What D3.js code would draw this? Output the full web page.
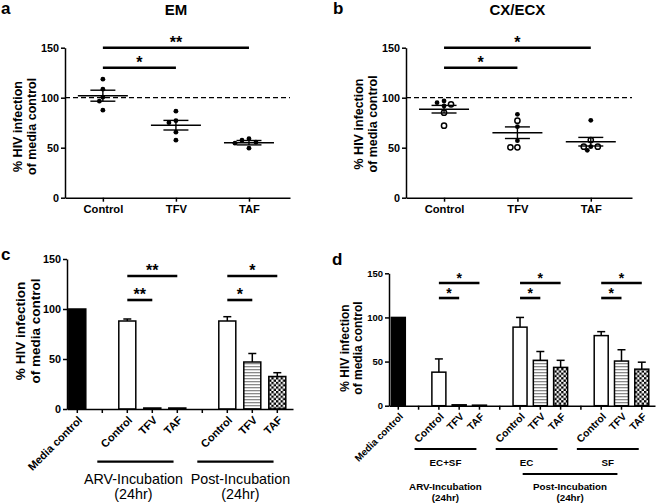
<!DOCTYPE html>
<html>
<head>
<meta charset="utf-8">
<script src="https://cdn.jsdelivr.net/npm/d3@7"></script>
<style>
  body { margin: 0; background: #fff; }
  svg { font-family: "Liberation Sans", Arial, sans-serif; }
  .axis path, .axis line { stroke: #000; stroke-width: 1.5px; }
  .axis text { font-weight: bold; fill: #000; }
</style>
</head>
<body>
<div id="chart"></div>
<script>
// ---- data ----
const scatterCats = ["Control", "TFV", "TAF"];
const yTicks = [0, 50, 100, 150];

// panel a (EM)
const emControl = [118.5, 108.5, 100.5, 96.5, 87.5];
const emTFV = [86.5, 77, 75, 65.5, 57.5];
const emTAF = [59, 57.5, 55.5, 54.5, 49.5];
const emMean = [102, 72.5, 55];
const emSem = [5.5, 4.8, 2.2];
const emSig = [["Control", "TAF", 150, "**"], ["Control", "TFV", 130, "*"]];

// panel b (CX/ECX), open = true for hollow markers
const cxControl = [96.7, 95, 93.4, 91.7, 85, 72];
const cxControlOpen = [false, false, true, false, true, true];
const cxTFV = [83.4, 77, 71, 57, 50.4, 50.4];
const cxTFVOpen = [false, true, false, false, true, true];
const cxTAF = [77.4, 57.7, 51, 47.4, 51, 51];
const cxTAFOpen = [false, true, false, false, true, true];
const cxMean = [88.5, 65, 56];
const cxSem = [3.8, 5.8, 4.3];
const cxSig = [["Control", "TAF", 150, "*"], ["Control", "TFV", 130, "*"]];

// panel c
const cKeys = ["media", "g1", "arvC", "arvT", "arvA", "g2", "postC", "postT", "postA"];
const cLabels = ["Media control", "", "Control", "TFV", "TAF", "", "Control", "TFV", "TAF"];
const cValues = [100, null, 88, 1, 1, null, 88, 47, 32.5];
const cErr = [0, null, 2, 0, 0, null, 4.3, 8.5, 3.8];
const cSig = [["arvC", "arvA", 133, "**"], ["arvC", "arvT", 109, "**"],
              ["postC", "postA", 133, "*"], ["postC", "postT", 109, "*"]];
const cGroups = [["arvC", "arvA", ["ARV-Incubation", "(24hr)"]],
                 ["postC", "postA", ["Post-Incubation", "(24hr)"]]];

// panel d
const dKeys = ["media", "g1", "esC", "esT", "esA", "g2", "ecC", "ecT", "ecA", "g3", "sfC", "sfT", "sfA"];
const dLabels = ["Media control", "", "Control", "TFV", "TAF", "", "Control", "TFV", "TAF", "", "Control", "TFV", "TAF"];
const dValues = [100, null, 38, 1, 0.6, null, 89, 51.4, 43.4, null, 79.4, 50.6, 41.4];
const dErr = [0, null, 15, 0, 0, null, 11, 10, 8, null, 4.5, 12.8, 7.9];
const dSig = [["esC", "esA", 139, "*"], ["esC", "esT", 122, "*"],
              ["ecC", "ecA", 139, "*"], ["ecC", "ecT", 122, "*"],
              ["sfC", "sfA", 139, "*"], ["sfC", "sfT", 122, "*"]];
const dGroups = [["esC", "esA", ["EC+SF"]], ["ecC", "ecA", ["EC"]], ["sfC", "sfA", ["SF"]]];
const dOuter = [["esC", "esA", ["ARV-Incubation", "(24hr)"]], ["ecT", "sfT", ["Post-Incubation", "(24hr)"]]];

const yLabel = ["% HIV infection", "of media control"];

// ---- drawing ----
const svg = d3.select("#chart").append("svg")
  .attr("width", 658).attr("height", 504);

const defs = svg.append("defs");
const stripe = defs.append("pattern").attr("id", "stripes")
  .attr("patternUnits", "userSpaceOnUse").attr("width", 4).attr("height", 3);
stripe.append("rect").attr("width", 4).attr("height", 3).attr("fill", "#fff");
stripe.append("rect").attr("y", 0).attr("width", 4).attr("height", 1.3).attr("fill", "#8a8a8a");
const check = defs.append("pattern").attr("id", "checks")
  .attr("patternUnits", "userSpaceOnUse").attr("width", 4.6).attr("height", 4.6);
check.append("rect").attr("width", 4.6).attr("height", 4.6).attr("fill", "#fff");
check.append("rect").attr("width", 2.3).attr("height", 2.3).attr("fill", "#000");
check.append("rect").attr("x", 2.3).attr("y", 2.3).attr("width", 2.3).attr("height", 2.3).attr("fill", "#000");

function fillFor(label) {
  if (label === "Media control") return "#000";
  if (label === "TFV") return "url(#stripes)";
  if (label === "TAF") return "url(#checks)";
  return "#fff";
}

function panelLetter(t, x, y) {
  svg.append("text").attr("x", x).attr("y", y).text(t)
    .attr("font-size", 17).attr("font-weight", "bold");
}

// two-line rotated title; cx is the baseline of the first line
function yTitle(cx, cy, size, gap) {
  const g = svg.append("g").attr("transform", `translate(${cx},${cy}) rotate(-90)`);
  yLabel.forEach((s, i) => {
    g.append("text").attr("x", 0).attr("y", i * gap).attr("text-anchor", "middle")
      .attr("font-size", size).attr("font-weight", "bold").text(s);
  });
}

function yAxis(y, x0, size) {
  svg.append("g").attr("class", "axis").attr("transform", `translate(${x0},0)`)
    .call(d3.axisLeft(y).tickValues(yTicks).tickSize(4).tickSizeOuter(0).tickPadding(2))
    .selectAll("text").attr("font-size", size);
}

function sigBars(list, pos, y, size, lift) {
  list.forEach(([a, b, v, s]) => {
    svg.append("line").attr("x1", pos(a)).attr("x2", pos(b))
      .attr("y1", y(v)).attr("y2", y(v)).attr("stroke", "#000").attr("stroke-width", 2.6);
    svg.append("text").attr("x", (pos(a) + pos(b)) / 2).attr("y", y(v) + lift)
      .attr("text-anchor", "middle").attr("font-size", size).attr("font-weight", "bold").text(s);
  });
}

function dodge(vals, y) {
  const placed = [];
  const off = new Array(vals.length);
  const order = vals.map((v, i) => i).sort((a, b) => vals[b] - vals[a]);
  order.forEach(i => {
    const py = y(vals[i]);
    for (let k = 0; k < 20; k++) {
      const dx = k === 0 ? 0 : (k % 2 ? -1 : 1) * Math.ceil(k / 2) * 3.5;
      if (placed.every(p => Math.hypot(p[0] - dx, p[1] - py) >= 5)) {
        off[i] = dx; placed.push([dx, py]); break;
      }
    }
  });
  return off;
}

function scatterPanel(opt) {
  const x = d3.scalePoint().domain(scatterCats).range([opt.x0, opt.x1]).padding(0.54).align(0.48);
  const y = d3.scaleLinear().domain([0, 150]).range([197.7, 47.7]);

  svg.append("text").attr("x", x("TFV")).attr("y", 15).attr("text-anchor", "middle")
    .attr("font-size", 15).attr("font-weight", "bold").text(opt.title);

  // dashed reference line at 100
  svg.append("line").attr("x1", opt.x0).attr("x2", opt.x1).attr("y1", y(100)).attr("y2", y(100))
    .attr("stroke", "#000").attr("stroke-width", 1.3).attr("stroke-dasharray", "5,3");

  yAxis(y, opt.x0, 10.8);
  svg.append("g").attr("class", "axis").attr("transform", "translate(0,197.7)")
    .call(d3.axisBottom(x).tickSize(4).tickSizeOuter(0).tickPadding(3))
    .selectAll("text").attr("font-size", 11.2);

  opt.points.forEach((vals, ci) => {
    const cx = x(scatterCats[ci]);
    const off = dodge(vals, y);
    vals.forEach((v, i) => {
      const open = opt.open ? opt.open[ci][i] : false;
      svg.append("circle").attr("cx", cx + off[i]).attr("cy", y(v))
        .attr("r", open ? 2.6 : 2.4)
        .attr("fill", open ? "#fff" : "#000")
        .attr("stroke", "#000").attr("stroke-width", open ? 1.5 : 0);
    });
    const m = opt.mean[ci], s = opt.sem[ci];
    const line = (x1, x2, yy) => svg.append("line").attr("x1", x1).attr("x2", x2)
      .attr("y1", yy).attr("y2", yy).attr("stroke", "#000").attr("stroke-width", 1.4);
    line(cx - 25, cx + 25, y(m));
    line(cx - 12.5, cx + 12.5, y(m + s));
    line(cx - 12.5, cx + 12.5, y(m - s));
    svg.append("line").attr("x1", cx).attr("x2", cx).attr("y1", y(m + s)).attr("y2", y(m - s))
      .attr("stroke", "#000").attr("stroke-width", 1.4);
  });

  sigBars(opt.sig, x, y, 16, 0);
  yTitle(opt.tx, opt.ty, 12.5, 13.8);
}

function barPanel(opt) {
  const x = d3.scaleBand().domain(opt.keys).range([opt.x0, opt.x1])
    .paddingInner(opt.pi).paddingOuter(opt.po).align(opt.al);
  const y = d3.scaleLinear().domain([0, 150]).range([opt.yb, opt.yt]);
  const mid = k => x(k) + x.bandwidth() / 2;

  yAxis(y, opt.x0, opt.tick);
  const xa = svg.append("g").attr("class", "axis").attr("transform", `translate(0,${opt.yb})`)
    .call(d3.axisBottom(x).tickSize(4).tickSizeOuter(0).tickFormat(""));

  opt.keys.forEach((k, i) => {
    const v = opt.values[i];
    if (v === null) return;
    const bx = x(k), bw = x.bandwidth();
    const e = opt.err[i];
    if (e > 0) {
      svg.append("line").attr("x1", mid(k)).attr("x2", mid(k)).attr("y1", y(v)).attr("y2", y(v + e))
        .attr("stroke", "#000").attr("stroke-width", 1.5);
      svg.append("line").attr("x1", mid(k) - 4).attr("x2", mid(k) + 4).attr("y1", y(v + e)).attr("y2", y(v + e))
        .attr("stroke", "#000").attr("stroke-width", 1.5);
    }
    svg.append("rect").attr("x", bx).attr("y", y(v)).attr("width", bw).attr("height", y(0) - y(v))
      .attr("fill", fillFor(opt.labels[i])).attr("stroke", "#000").attr("stroke-width", 1.5);
  });
  xa.raise();

  // rotated category labels
  opt.keys.forEach((k, i) => {
    if (!opt.labels[i]) return;
    svg.append("text").attr("transform", `translate(${mid(k) + 3},${opt.yb + 9}) rotate(-45)`)
      .attr("text-anchor", "end").attr("dy", "0.35em")
      .attr("font-size", i === 0 ? opt.rot0 : opt.rot).attr("font-weight", "bold").text(opt.labels[i]);
  });

  const step = x.step();
  opt.groups.forEach(([a, b, lines], j) => {
    const x1 = mid(a) - 1.2 * step, x2 = mid(b) - 0.15 * step;
    svg.append("line").attr("x1", x1).attr("x2", x2).attr("y1", opt.gy).attr("y2", opt.gy)
      .attr("stroke", "#000").attr("stroke-width", 2.2);
    const shift = opt.gdx ? opt.gdx[j] : 0;
    lines.forEach((s, n) => {
      svg.append("text").attr("x", (x1 + x2) / 2 + shift).attr("y", opt.gty + n * opt.glh)
        .attr("text-anchor", "middle").attr("font-size", opt.gfs)
        .attr("font-weight", opt.gbold ? "bold" : "normal").text(s);
    });
  });
  if (opt.outer) {
    opt.outer.forEach(([a, b, lines], j) => {
      let x1 = mid(a) - 1.2 * step, x2 = mid(b) - 0.15 * step;
      if (j > 0) {
        x1 = mid(a) - 0.87 * step; x2 = mid(b) - 0.2 * step;
        svg.append("line").attr("x1", x1).attr("x2", x2).attr("y1", opt.oy).attr("y2", opt.oy)
          .attr("stroke", "#000").attr("stroke-width", 2.2);
      }
      lines.forEach((s, n) => {
        svg.append("text").attr("x", (x1 + x2) / 2).attr("y", opt.oty + n * opt.olh)
          .attr("text-anchor", "middle").attr("font-size", opt.gfs).attr("font-weight", "bold").text(s);
      });
    });
  }

  sigBars(opt.sig, mid, y, opt.star, opt.lift);
  yTitle(opt.tx, opt.ty, opt.tfs, opt.tgap);
}

panelLetter("a", 1, 14);
panelLetter("b", 333, 14);
panelLetter("c", 1, 260);
panelLetter("d", 332, 265);

scatterPanel({ x0: 65, x1: 290, title: "EM", tx: 22, ty: 126.5,
  points: [emControl, emTFV, emTAF], mean: emMean, sem: emSem, sig: emSig });
scatterPanel({ x0: 406, x1: 632, title: "CX/ECX", tx: 363, ty: 124,
  points: [cxControl, cxTFV, cxTAF], open: [cxControlOpen, cxTFVOpen, cxTAFOpen],
  mean: cxMean, sem: cxSem, sig: cxSig });

barPanel({ keys: cKeys, labels: cLabels, values: cValues, err: cErr, sig: cSig,
  x0: 67, x1: 293, pi: 0.32, po: 0.18, al: 0.2, yb: 409, yt: 259, tick: 10.8, rot: 11, rot0: 11,
  groups: cGroups, gdx: [-2, 5], gy: 461.7, gty: 484, glh: 14.5, gfs: 14.3, gbold: false, star: 16, lift: 0,
  tx: 25, ty: 331, tfs: 13.5, tgap: 14.5 });

barPanel({ keys: dKeys, labels: dLabels, values: dValues, err: dErr, sig: dSig,
  x0: 389, x1: 655, pi: 0.31, po: 0.21, al: 0.27, yb: 405.7, yt: 273.3, tick: 9.5, rot: 10.3, rot0: 9.8,
  groups: dGroups, gy: 449, gty: 465.5, glh: 0, gfs: 9.8, gbold: true,
  outer: dOuter, oy: 474, oty: 490, olh: 11, star: 14, lift: 0,
  tx: 348.5, ty: 348, tfs: 12, tgap: 13.5 });
</script>
</body>
</html>
